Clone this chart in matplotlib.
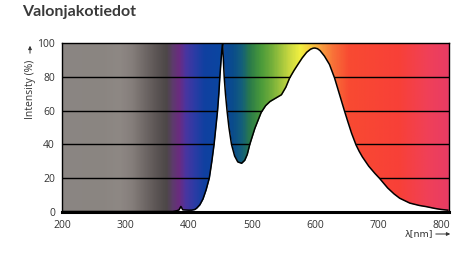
import numpy as np
import matplotlib.pyplot as plt
from matplotlib.colors import LinearSegmentedColormap

# spectrum (wavelength nm, relative intensity %)
wavelength = [200, 375, 382, 385, 388, 391, 400, 405, 410, 413, 418, 423, 428, 433,
              437, 440.5, 443, 446, 448, 449.6, 451.5, 453, 454, 455.5, 456.5, 458.5,
              461, 464, 468, 473, 478, 484, 489, 493, 497, 505, 515, 522, 529, 538,
              547, 554, 560, 567, 573, 580, 587, 593, 597, 600, 604, 608, 615, 623,
              631, 639, 647, 652, 658, 665, 670, 675, 685, 695, 702, 715, 725, 734,
              750, 765, 776, 790, 800, 810]
intensity = [0, 0, 0.5, 1, 3, 1, 0.8, 0.8, 1.2, 2, 4, 7.5, 13, 20,
             30, 40, 49, 60, 70, 80, 90, 97, 100, 88, 80, 70,
             60, 50, 40, 33, 29.5, 28.7, 30.5, 34, 40, 49.5, 59, 63, 65.5, 67.5,
             69.5, 74, 79.5, 84, 87.5, 91.5, 94.8, 96.6, 97.2, 97.3, 96.9, 95.8, 92.5, 87.5,
             79.5, 69.5, 59.5, 53.5, 46.5, 39.6, 35.8, 32.5, 27, 22.6, 19.8, 14, 10.5, 7.9,
             5, 3.6, 2.9, 1.8, 1.2, 0.8]

# background spectrum colours
bg_nm = [200, 260, 290, 310, 330, 350, 365, 375, 385, 395, 410, 425, 450, 470, 485,
         497, 515, 530, 560, 577, 595, 610, 630, 655, 735, 780, 812]
bg_col = ['#8b8683', '#8a8581', '#8e8884', '#857e7b', '#6f6866', '#5a5353', '#4c4747',
          '#5e3a6e', '#6b2b80', '#4a35a0', '#2a3ca5', '#1040a0', '#0a46a0', '#0a4c8c',
          '#14607a', '#2a7a4a', '#4a9a3a', '#6eac3a', '#c8d840', '#f2f040', '#f8c840',
          '#f8a040', '#f87038', '#f84a32', '#f84038', '#f04058', '#e83c64']

x_ticks = [200, 300, 400, 500, 600, 700, 800]
y_ticks = [0, 20, 40, 60, 80, 100]

x_min, x_max = 200, 812

fig = plt.figure(figsize=(4.74, 2.54), dpi=100)
ax = fig.add_axes([62 / 474, 1 - 211.5 / 254, (449 - 62) / 474, (211.5 - 43.5) / 254])

pos = [(v - x_min) / (x_max - x_min) for v in bg_nm]
cmap = LinearSegmentedColormap.from_list('spec', list(zip(pos, bg_col)))
grad = np.linspace(0, 1, 600).reshape(1, -1)
ax.imshow(grad, cmap=cmap, extent=[x_min, x_max, 0, 100], aspect='auto',
          interpolation='bilinear', zorder=0)

for v in y_ticks[1:-1]:
    ax.axhline(v, color='black', lw=1.0, zorder=1)

ax.fill_between(wavelength, intensity, 0, color='white', zorder=2, lw=0)
ax.plot(wavelength, intensity, color='black', lw=1.1, zorder=3, solid_joinstyle='round')

ax.set_xlim(x_min, x_max)
ax.set_ylim(0, 100)
ax.set_xticks(x_ticks)
ax.set_yticks(y_ticks)
ax.tick_params(length=0, labelsize=7.5, labelcolor='#333333')
ax.tick_params(axis='x', pad=6)
ax.tick_params(axis='y', pad=5)
for lab in ax.get_xticklabels() + ax.get_yticklabels():
    lab.set_family('Open Sans')

for side in ['top', 'right', 'left']:
    ax.spines[side].set_linewidth(1.0)
ax.spines['bottom'].set_linewidth(2.2)

fig.text(22 / 474, 1 - 16 / 254, 'Valonjakotiedot', fontsize=11.5, fontweight='bold',
         family='Lato', color='#3a3a3a', va='baseline')

fig.text(30 / 474, 1 - 89 / 254, 'Intensity (%)', rotation=90, fontsize=7.5,
         family='Open Sans', color='#333333', ha='center', va='center')
fig.add_artist(plt.Annotation('', xy=(30 / 474, 1 - 43 / 254), xytext=(30 / 474, 1 - 56 / 254),
                              xycoords='figure fraction',
                              arrowprops=dict(arrowstyle='-|>', color='#333333', lw=0.7,
                                              mutation_scale=5)))

fig.text(405 / 474, 1 - 234 / 254, 'λ[nm]', fontsize=6.8, family='DejaVu Sans',
         color='#333333', ha='left', va='center')
fig.add_artist(plt.Annotation('', xy=(453 / 474, 1 - 234 / 254), xytext=(433 / 474, 1 - 234 / 254),
                              xycoords='figure fraction',
                              arrowprops=dict(arrowstyle='-|>', color='#333333', lw=0.7,
                                              mutation_scale=5)))

fig.savefig('out.png', dpi=100)
